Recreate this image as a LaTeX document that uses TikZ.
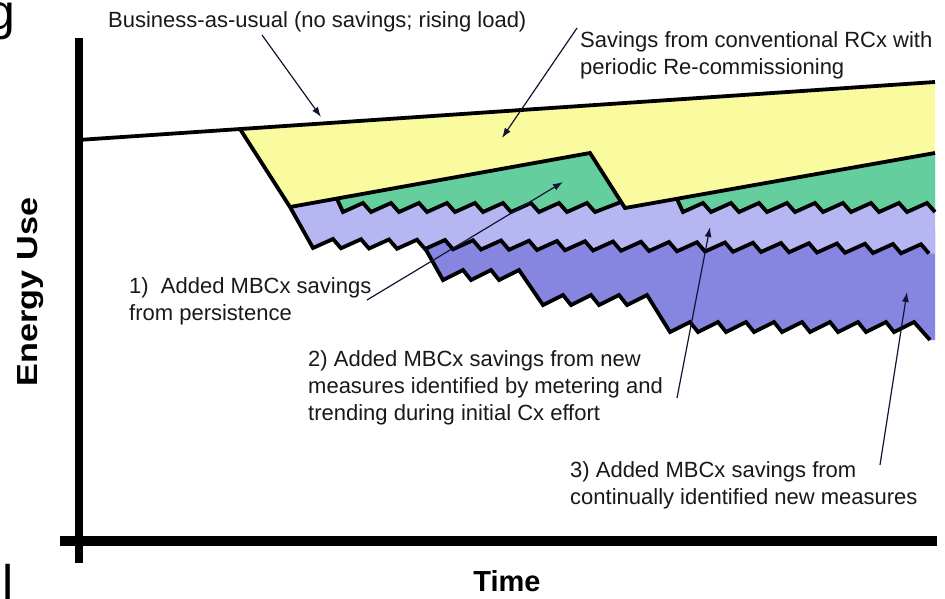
\documentclass[tikz,border=0pt]{standalone}
\usepackage{fontspec}
\setmainfont{Liberation Sans}
\usetikzlibrary{arrows.meta}
\definecolor{yel}{RGB}{250,250,158}
\definecolor{grn}{RGB}{100,206,158}
\definecolor{lpur}{RGB}{182,182,242}
\definecolor{dpur}{RGB}{134,134,224}
\definecolor{ink}{RGB}{25,25,25}
\definecolor{navy}{RGB}{20,20,50}
\newcommand\zzone{(337,199) -- (343,212) \foreach \i in {1,...,9}{ -- ++(20,-9) -- ++(8,9)} -- (621,202)}
\newcommand\zzonb{(677,199) -- (683,212) \foreach \i in {1,...,9}{ -- ++(20,-9) -- ++(8,9)}}
\newcommand\zztwo{(240,129) -- (290,207) -- (313,248) \foreach \i in {1,...,22}{ -- ++(20,-9) -- ++(8,9.25)}}
\newcommand\zzthree{(425,248) -- (443,280) \foreach \i in {1,2}{ -- ++(20,-10) -- ++(8,10)} -- ++(20,-10) -- (543,305) \foreach \i in {1,2,3}{ -- ++(20,-10) -- ++(8,10)} -- ++(20,-10) -- (670,332) \foreach \i in {1,...,8}{ -- ++(20,-10) -- ++(8,10)} -- ++(20,-10) -- (930,340)}
\begin{document}
\begin{tikzpicture}[x=1pt,y=-1pt,
  edge/.style={line width=3.8pt, line join=miter, black},
  callout/.style={line width=1.2pt, navy, -{Latex[length=10pt,width=7pt]}},
  lbl/.style={font=\fontsize{22}{27}\selectfont, text=ink, inner sep=0pt, align=left, anchor=base west},
  axlbl/.style={font=\fontsize{29}{34}\selectfont\bfseries, text=black, inner sep=0pt}]
\useasboundingbox (0,0) rectangle (945,599);
\fill[white] (0,0) rectangle (945,599);
% layers, painted from the bottom one up
\fill[dpur] \zzthree -- (935,340) -- (935,230) -- (425,230) -- cycle;
\fill[lpur] \zztwo -- (935,253.5) -- (935,153) -- (625,208) -- (590,153) -- (290,207) -- cycle;
\fill[grn] \zzone -- (590,153) -- cycle;
\fill[grn] \zzonb -- (935,153) -- cycle;
\fill[yel] (240,129) -- (935,82) -- (935,153) -- (625,208) -- (590,153) -- (290,207) -- cycle;
% outlines
\draw[edge] (78,140) -- (935,82);
\draw[edge] (290,207) -- (590,153) -- (625,208) -- (935,153);
\draw[edge] \zztwo;
\draw[edge] \zzone;
\draw[edge] \zzonb;
\draw[edge] \zzthree;
% axes
\draw[line width=8pt] (78.5,38) -- (78.5,563);
\draw[line width=10pt] (60,541) -- (937,541);
% labels (a multi-line label is placed at the baseline of its last line)
\node[lbl] (bau) at (108,28) {Business-as-usual (no savings; rising load)};
\node[lbl] (rcx) at (580,75) {Savings from conventional RCx with\\periodic Re-commissioning};
\node[lbl] (m1) at (129,320) {1)\ \ Added MBCx savings\\from persistence};
\node[lbl] (m2) at (308,420) {2) Added MBCx savings from new\\measures identified by metering and\\trending during initial Cx effort};
\node[lbl] (m3) at (570,504) {3) Added MBCx savings from\\continually identified new measures};
\node[axlbl, rotate=90] (ylab) at (31,292) {\scalebox{1.18}[1]{Energy Use}};
\node[axlbl] (xlab) at (507,581) {Time};
\node[font=\fontsize{50}{50}\selectfont, inner sep=0pt, anchor=base east] (gfrag) at (16,30) {g};
\node[font=\fontsize{50}{50}\selectfont, inner sep=0pt, anchor=base west] (lfrag) at (2,600) {l};
% callouts
\coordinate (c0s) at (262,35);  \coordinate (c0e) at (321,117);
\coordinate (c1s) at (577,28);  \coordinate (c1e) at (502,138);
\coordinate (c2s) at (367,300); \coordinate (c2e) at (563,182);
\coordinate (c3s) at (677,398); \coordinate (c3e) at (710,227);
\coordinate (c4s) at (880,465); \coordinate (c4e) at (907,292);
\draw[callout] (c0s) -- (c0e);
\draw[callout] (c1s) -- (c1e);
\draw[callout] (c2s) -- (c2e);
\draw[callout] (c3s) -- (c3e);
\draw[callout] (c4s) -- (c4e);
\end{tikzpicture}
\end{document}
